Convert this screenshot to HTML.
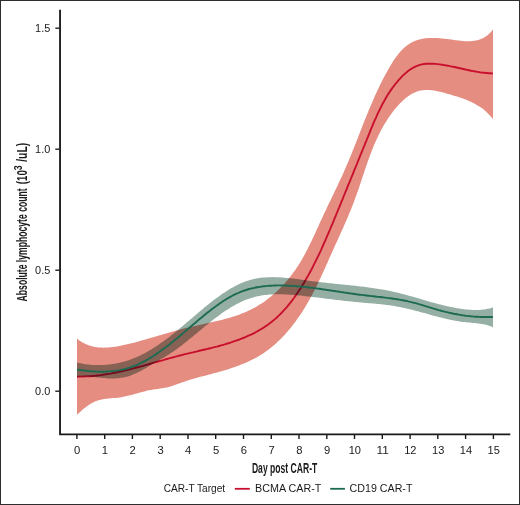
<!DOCTYPE html>
<html><head><meta charset="utf-8"><title>Absolute lymphocyte count</title>
<style>
html,body{margin:0;padding:0;background:#fff}
#fig{position:relative;width:518px;height:503px;border:1px solid #2e2e2e;background:#fff;overflow:hidden}
</style></head><body>
<div id="fig">
<svg width="518" height="503" viewBox="1 1 518 503" style="display:block;position:absolute;left:0;top:0">
<path d="M77.0,338.2 L78.6,340.0 L80.6,341.3 L82.5,342.5 L84.6,343.6 L86.6,344.5 L88.7,345.3 L90.8,346.0 L92.9,346.5 L95.0,346.9 L97.2,347.3 L99.3,347.5 L101.5,347.6 L103.7,347.7 L105.9,347.6 L108.1,347.5 L110.4,347.3 L112.6,347.1 L114.9,346.8 L117.1,346.4 L119.3,346.0 L121.6,345.6 L123.8,345.1 L126.1,344.6 L128.3,344.1 L130.5,343.5 L132.7,342.9 L135.0,342.4 L137.2,341.8 L139.4,341.2 L141.5,340.6 L143.7,340.0 L145.9,339.3 L148.1,338.7 L150.2,338.1 L152.4,337.5 L154.6,336.8 L156.7,336.2 L158.9,335.6 L161.0,334.9 L163.2,334.3 L165.3,333.7 L167.5,333.0 L169.7,332.4 L171.8,331.8 L174.0,331.2 L176.2,330.6 L178.3,330.0 L180.5,329.4 L182.7,328.8 L184.9,328.3 L187.1,327.7 L189.3,327.2 L191.5,326.7 L193.7,326.2 L195.9,325.7 L198.1,325.2 L200.3,324.7 L202.5,324.2 L204.8,323.8 L207.0,323.3 L209.2,322.8 L211.4,322.3 L213.6,321.8 L215.9,321.3 L218.1,320.8 L220.3,320.2 L222.5,319.7 L224.6,319.1 L226.8,318.5 L229.0,317.9 L231.1,317.3 L233.3,316.6 L235.4,315.9 L237.5,315.2 L239.6,314.4 L241.7,313.6 L243.8,312.8 L245.9,311.9 L247.9,311.0 L249.9,310.1 L251.9,309.1 L253.9,308.0 L255.9,307.0 L257.8,305.8 L259.7,304.6 L261.6,303.4 L263.5,302.2 L265.3,300.9 L267.1,299.5 L268.9,298.1 L270.7,296.7 L272.4,295.3 L274.2,293.8 L275.9,292.2 L277.5,290.7 L279.2,289.1 L280.8,287.5 L282.4,285.8 L283.9,284.2 L285.4,282.5 L286.9,280.7 L288.4,279.0 L289.8,277.2 L291.2,275.4 L292.6,273.6 L293.9,271.8 L295.3,269.9 L296.5,268.1 L297.8,266.2 L299.0,264.3 L300.2,262.4 L301.3,260.4 L302.5,258.5 L303.6,256.5 L304.7,254.6 L305.7,252.6 L306.8,250.6 L307.8,248.6 L308.8,246.6 L309.8,244.6 L310.8,242.5 L311.8,240.5 L312.7,238.5 L313.7,236.4 L314.6,234.4 L315.6,232.3 L316.5,230.3 L317.4,228.2 L318.4,226.2 L319.3,224.1 L320.2,222.1 L321.2,220.0 L322.1,217.9 L323.1,215.9 L324.0,213.8 L325.0,211.8 L326.0,209.7 L326.9,207.7 L327.9,205.6 L328.9,203.6 L329.9,201.6 L330.9,199.5 L331.8,197.5 L332.8,195.4 L333.8,193.4 L334.8,191.3 L335.8,189.3 L336.8,187.2 L337.7,185.2 L338.7,183.1 L339.6,181.1 L340.6,179.0 L341.6,177.0 L342.5,174.9 L343.4,172.9 L344.3,170.8 L345.2,168.7 L346.1,166.7 L347.0,164.6 L347.9,162.5 L348.8,160.4 L349.6,158.3 L350.5,156.3 L351.4,154.2 L352.2,152.1 L353.0,150.0 L353.9,147.9 L354.7,145.8 L355.5,143.7 L356.4,141.6 L357.2,139.5 L358.0,137.4 L358.8,135.3 L359.6,133.2 L360.5,131.1 L361.3,129.0 L362.1,126.9 L362.9,124.8 L363.7,122.7 L364.6,120.6 L365.4,118.5 L366.3,116.4 L367.1,114.3 L368.0,112.2 L368.8,110.1 L369.7,108.0 L370.6,105.9 L371.5,103.9 L372.4,101.8 L373.3,99.7 L374.2,97.6 L375.1,95.5 L376.0,93.5 L377.0,91.4 L378.0,89.3 L379.0,87.3 L379.9,85.2 L381.0,83.2 L382.0,81.1 L383.0,79.1 L384.1,77.0 L385.2,75.0 L386.3,72.9 L387.4,70.9 L388.5,68.9 L389.7,66.9 L390.9,64.9 L392.1,62.9 L393.3,61.0 L394.6,59.1 L395.9,57.2 L397.3,55.4 L398.7,53.6 L400.1,51.9 L401.6,50.3 L403.1,48.8 L404.7,47.3 L406.3,45.9 L408.0,44.7 L409.8,43.5 L411.6,42.5 L413.5,41.5 L415.4,40.7 L417.5,40.0 L419.5,39.4 L421.6,38.9 L423.8,38.6 L426.0,38.3 L428.2,38.1 L430.5,37.9 L432.8,37.9 L435.1,37.9 L437.4,38.0 L439.8,38.2 L442.1,38.4 L444.5,38.7 L446.8,39.0 L449.2,39.3 L451.5,39.6 L453.9,40.0 L456.2,40.3 L458.5,40.6 L460.8,40.8 L463.1,41.0 L465.4,41.2 L467.6,41.2 L469.8,41.2 L472.0,41.0 L474.1,40.8 L476.2,40.4 L478.3,39.9 L480.3,39.3 L482.3,38.4 L484.2,37.4 L486.1,36.3 L487.9,34.9 L489.7,33.3 L491.4,31.5 L493.0,29.6 L493.0,119.0 L491.5,117.2 L489.9,115.4 L488.2,113.7 L486.5,112.1 L484.8,110.5 L483.1,109.1 L481.3,107.8 L479.4,106.5 L477.5,105.4 L475.6,104.2 L473.7,103.2 L471.7,102.2 L469.7,101.3 L467.7,100.4 L465.6,99.6 L463.5,98.8 L461.4,98.0 L459.2,97.3 L457.1,96.6 L454.8,95.9 L452.6,95.2 L450.3,94.5 L448.0,93.9 L445.7,93.2 L443.4,92.6 L441.1,92.0 L438.7,91.5 L436.4,91.0 L434.1,90.6 L431.7,90.3 L429.4,90.1 L427.2,90.0 L424.9,90.1 L422.7,90.3 L420.6,90.6 L418.4,91.1 L416.4,91.8 L414.3,92.7 L412.4,93.6 L410.4,94.7 L408.6,96.0 L406.7,97.3 L404.9,98.8 L403.2,100.3 L401.5,101.9 L399.9,103.6 L398.3,105.3 L396.7,107.0 L395.2,108.8 L393.8,110.6 L392.3,112.4 L391.0,114.3 L389.6,116.2 L388.3,118.1 L387.1,120.0 L385.9,121.9 L384.7,123.8 L383.5,125.8 L382.4,127.8 L381.3,129.8 L380.3,131.8 L379.3,133.8 L378.3,135.8 L377.3,137.9 L376.3,140.0 L375.4,142.0 L374.5,144.1 L373.6,146.2 L372.8,148.3 L371.9,150.4 L371.1,152.6 L370.3,154.7 L369.5,156.8 L368.7,159.0 L368.0,161.1 L367.2,163.3 L366.4,165.5 L365.7,167.6 L365.0,169.8 L364.2,172.0 L363.5,174.2 L362.8,176.3 L362.0,178.5 L361.3,180.7 L360.6,182.9 L359.9,185.1 L359.1,187.3 L358.4,189.4 L357.6,191.6 L356.9,193.8 L356.1,196.0 L355.3,198.1 L354.5,200.3 L353.7,202.4 L352.9,204.6 L352.0,206.7 L351.2,208.9 L350.3,211.0 L349.4,213.1 L348.6,215.2 L347.7,217.3 L346.8,219.5 L345.8,221.6 L344.9,223.7 L344.0,225.8 L343.1,227.9 L342.1,230.0 L341.2,232.1 L340.3,234.1 L339.3,236.2 L338.4,238.3 L337.4,240.4 L336.5,242.5 L335.5,244.6 L334.6,246.6 L333.7,248.7 L332.7,250.8 L331.8,252.9 L330.9,254.9 L329.9,257.0 L329.0,259.1 L328.1,261.2 L327.2,263.2 L326.2,265.3 L325.3,267.4 L324.4,269.4 L323.5,271.5 L322.5,273.6 L321.6,275.6 L320.6,277.7 L319.6,279.7 L318.7,281.8 L317.7,283.8 L316.7,285.9 L315.7,287.9 L314.6,289.9 L313.6,291.9 L312.5,294.0 L311.5,296.0 L310.4,298.0 L309.3,300.0 L308.1,302.0 L307.0,304.0 L305.8,306.0 L304.6,307.9 L303.4,309.9 L302.1,311.9 L300.9,313.8 L299.6,315.7 L298.3,317.6 L296.9,319.5 L295.6,321.4 L294.2,323.3 L292.8,325.1 L291.4,326.9 L289.9,328.7 L288.4,330.5 L286.9,332.2 L285.4,334.0 L283.8,335.7 L282.3,337.3 L280.7,339.0 L279.0,340.6 L277.4,342.1 L275.7,343.7 L274.0,345.2 L272.3,346.6 L270.5,348.1 L268.7,349.5 L266.9,350.8 L265.1,352.1 L263.2,353.4 L261.3,354.6 L259.4,355.8 L257.4,356.9 L255.5,358.0 L253.5,359.1 L251.5,360.1 L249.4,361.0 L247.4,362.0 L245.3,362.9 L243.2,363.8 L241.1,364.6 L239.0,365.5 L236.8,366.2 L234.7,367.0 L232.5,367.8 L230.3,368.5 L228.2,369.2 L226.0,369.9 L223.8,370.5 L221.6,371.2 L219.3,371.8 L217.1,372.4 L214.9,373.0 L212.7,373.6 L210.5,374.2 L208.3,374.8 L206.0,375.4 L203.8,375.9 L201.6,376.5 L199.4,377.1 L197.2,377.7 L195.0,378.3 L192.8,379.0 L190.6,379.6 L188.4,380.3 L186.2,381.0 L184.1,381.7 L181.9,382.4 L179.8,383.2 L177.6,384.0 L175.5,384.8 L173.3,385.6 L171.2,386.3 L169.0,386.9 L166.8,387.4 L164.5,387.8 L162.3,388.2 L160.0,388.5 L157.8,388.9 L155.5,389.2 L153.2,389.5 L151.0,389.9 L148.7,390.3 L146.5,390.8 L144.3,391.4 L142.1,391.9 L139.9,392.5 L137.7,393.2 L135.5,393.8 L133.3,394.4 L131.1,395.0 L128.9,395.6 L126.7,396.1 L124.5,396.6 L122.2,397.1 L120.0,397.4 L117.7,397.7 L115.4,397.9 L113.2,398.1 L110.9,398.3 L108.6,398.5 L106.4,398.7 L104.1,399.0 L101.9,399.4 L99.8,399.9 L97.6,400.5 L95.5,401.3 L93.5,402.2 L91.5,403.3 L89.5,404.5 L87.6,405.8 L85.8,407.2 L83.9,408.6 L82.1,410.1 L80.4,411.7 L78.7,413.2 L77.0,414.7Z" fill="#E58D81"/>
<path d="M77.0,376.7 L79.2,376.6 L81.5,376.6 L83.8,376.5 L86.0,376.4 L88.3,376.3 L90.5,376.2 L92.8,376.0 L95.0,375.8 L97.3,375.5 L99.5,375.3 L101.7,375.0 L103.9,374.6 L106.1,374.3 L108.3,373.9 L110.5,373.6 L112.7,373.1 L114.9,372.7 L117.1,372.3 L119.3,371.8 L121.5,371.3 L123.6,370.8 L125.8,370.3 L128.0,369.8 L130.1,369.2 L132.3,368.7 L134.5,368.1 L136.6,367.5 L138.8,367.0 L140.9,366.4 L143.1,365.8 L145.3,365.2 L147.4,364.6 L149.6,364.0 L151.7,363.3 L153.9,362.7 L156.0,362.1 L158.2,361.5 L160.3,360.9 L162.5,360.3 L164.6,359.6 L166.8,359.0 L169.0,358.4 L171.1,357.8 L173.3,357.3 L175.5,356.7 L177.6,356.1 L179.8,355.5 L182.0,355.0 L184.1,354.4 L186.3,353.9 L188.5,353.4 L190.7,352.9 L192.9,352.4 L195.1,351.8 L197.2,351.3 L199.4,350.8 L201.6,350.3 L203.8,349.8 L206.0,349.3 L208.1,348.7 L210.3,348.2 L212.5,347.7 L214.6,347.1 L216.8,346.6 L219.0,346.0 L221.1,345.4 L223.3,344.8 L225.4,344.2 L227.5,343.5 L229.7,342.8 L231.8,342.2 L233.9,341.4 L236.0,340.7 L238.1,340.0 L240.2,339.2 L242.3,338.3 L244.4,337.5 L246.4,336.6 L248.5,335.7 L250.5,334.8 L252.6,333.8 L254.6,332.8 L256.5,331.7 L258.5,330.6 L260.4,329.5 L262.4,328.4 L264.2,327.2 L266.1,325.9 L267.9,324.7 L269.7,323.3 L271.5,322.0 L273.2,320.6 L274.9,319.1 L276.6,317.7 L278.2,316.1 L279.8,314.6 L281.4,313.0 L282.9,311.4 L284.4,309.7 L285.9,308.1 L287.4,306.4 L288.8,304.6 L290.2,302.9 L291.6,301.1 L293.0,299.3 L294.3,297.5 L295.6,295.6 L296.9,293.8 L298.1,291.9 L299.4,290.0 L300.6,288.2 L301.8,286.3 L303.0,284.3 L304.2,282.4 L305.3,280.5 L306.4,278.5 L307.6,276.6 L308.7,274.6 L309.7,272.7 L310.8,270.7 L311.9,268.7 L312.9,266.7 L313.9,264.7 L314.9,262.7 L315.9,260.7 L316.9,258.7 L317.9,256.7 L318.9,254.6 L319.8,252.6 L320.8,250.6 L321.7,248.5 L322.6,246.5 L323.5,244.4 L324.4,242.4 L325.3,240.3 L326.2,238.3 L327.1,236.2 L328.0,234.2 L328.9,232.1 L329.8,230.0 L330.6,228.0 L331.5,225.9 L332.4,223.8 L333.2,221.8 L334.1,219.7 L334.9,217.6 L335.8,215.6 L336.6,213.5 L337.5,211.4 L338.3,209.4 L339.2,207.3 L340.0,205.3 L340.9,203.2 L341.7,201.1 L342.6,199.1 L343.4,197.0 L344.2,195.0 L345.1,192.9 L345.9,190.9 L346.8,188.8 L347.6,186.7 L348.4,184.7 L349.3,182.6 L350.1,180.6 L351.0,178.5 L351.8,176.4 L352.7,174.4 L353.5,172.3 L354.3,170.2 L355.2,168.2 L356.0,166.1 L356.9,164.0 L357.7,162.0 L358.5,159.9 L359.4,157.8 L360.2,155.7 L361.1,153.7 L361.9,151.6 L362.8,149.5 L363.6,147.4 L364.5,145.3 L365.3,143.2 L366.2,141.1 L367.0,139.0 L367.9,136.9 L368.7,134.8 L369.6,132.7 L370.4,130.6 L371.3,128.5 L372.2,126.4 L373.0,124.3 L373.9,122.2 L374.8,120.1 L375.8,118.1 L376.7,116.0 L377.6,113.9 L378.6,111.9 L379.6,109.9 L380.6,107.8 L381.6,105.8 L382.6,103.8 L383.7,101.9 L384.8,99.9 L385.9,98.0 L387.0,96.0 L388.2,94.1 L389.4,92.3 L390.7,90.4 L391.9,88.6 L393.2,86.8 L394.6,85.0 L395.9,83.3 L397.4,81.6 L398.8,79.9 L400.3,78.3 L401.8,76.7 L403.4,75.1 L405.0,73.6 L406.7,72.2 L408.4,70.8 L410.2,69.5 L412.0,68.4 L413.9,67.3 L415.8,66.4 L417.8,65.6 L419.8,64.9 L421.9,64.4 L424.0,64.0 L426.2,63.8 L428.4,63.7 L430.6,63.7 L432.9,63.8 L435.1,63.9 L437.4,64.1 L439.7,64.4 L442.0,64.7 L444.2,65.1 L446.5,65.5 L448.7,65.9 L451.0,66.4 L453.2,66.8 L455.4,67.3 L457.7,67.8 L459.9,68.3 L462.1,68.8 L464.3,69.3 L466.6,69.8 L468.8,70.2 L471.0,70.7 L473.2,71.1 L475.4,71.5 L477.6,71.9 L479.8,72.3 L482.0,72.6 L484.2,72.8 L486.4,73.0 L488.6,73.2 L490.7,73.3 L493.0,73.6" fill="none" stroke="#C8102E" stroke-width="1.9"/>
<path d="M77.0,362.6 L78.7,363.0 L80.4,363.3 L82.1,363.6 L83.8,363.9 L85.5,364.2 L87.2,364.4 L88.9,364.6 L90.6,364.8 L92.4,364.9 L94.1,365.0 L95.8,365.1 L97.5,365.1 L99.2,365.1 L100.9,365.1 L102.7,365.0 L104.4,364.9 L106.1,364.8 L107.8,364.6 L109.5,364.5 L111.2,364.2 L112.9,364.0 L114.6,363.7 L116.3,363.4 L117.9,363.1 L119.6,362.7 L121.3,362.3 L122.9,361.9 L124.6,361.4 L126.2,360.9 L127.9,360.4 L129.5,359.9 L131.1,359.3 L132.7,358.7 L134.3,358.0 L135.9,357.4 L137.5,356.7 L139.0,356.0 L140.6,355.2 L142.1,354.5 L143.7,353.7 L145.2,352.9 L146.7,352.0 L148.2,351.2 L149.7,350.3 L151.2,349.4 L152.7,348.5 L154.1,347.6 L155.6,346.7 L157.0,345.7 L158.5,344.8 L159.9,343.8 L161.3,342.8 L162.7,341.8 L164.1,340.8 L165.5,339.8 L166.9,338.7 L168.3,337.7 L169.6,336.7 L171.0,335.6 L172.3,334.6 L173.6,333.5 L175.0,332.4 L176.3,331.4 L177.6,330.3 L178.9,329.2 L180.2,328.1 L181.5,327.0 L182.8,325.9 L184.1,324.8 L185.4,323.7 L186.6,322.6 L187.9,321.5 L189.2,320.4 L190.5,319.3 L191.8,318.2 L193.1,317.1 L194.4,316.0 L195.7,314.9 L197.0,313.8 L198.3,312.7 L199.6,311.6 L200.9,310.5 L202.2,309.4 L203.5,308.2 L204.9,307.1 L206.2,306.1 L207.6,305.0 L208.9,303.9 L210.3,302.8 L211.7,301.7 L213.1,300.6 L214.5,299.5 L215.9,298.5 L217.3,297.4 L218.7,296.4 L220.2,295.4 L221.6,294.3 L223.1,293.3 L224.6,292.4 L226.1,291.4 L227.6,290.5 L229.1,289.5 L230.6,288.6 L232.1,287.8 L233.6,286.9 L235.2,286.1 L236.7,285.3 L238.3,284.5 L239.8,283.8 L241.4,283.1 L243.0,282.5 L244.5,281.8 L246.1,281.2 L247.7,280.7 L249.4,280.2 L251.0,279.7 L252.6,279.3 L254.2,278.9 L255.9,278.6 L257.5,278.3 L259.2,278.0 L260.8,277.8 L262.5,277.6 L264.1,277.5 L265.8,277.4 L267.5,277.3 L269.2,277.2 L270.9,277.2 L272.6,277.1 L274.2,277.2 L275.9,277.2 L277.6,277.3 L279.4,277.3 L281.1,277.5 L282.8,277.6 L284.5,277.7 L286.2,277.9 L287.9,278.0 L289.7,278.2 L291.4,278.4 L293.1,278.6 L294.8,278.8 L296.6,279.1 L298.3,279.3 L300.0,279.5 L301.8,279.7 L303.5,280.0 L305.2,280.2 L307.0,280.5 L308.7,280.7 L310.4,280.9 L312.2,281.2 L313.9,281.4 L315.6,281.6 L317.4,281.8 L319.1,282.0 L320.8,282.2 L322.5,282.4 L324.3,282.6 L326.0,282.8 L327.7,283.0 L329.4,283.2 L331.2,283.3 L332.9,283.5 L334.6,283.7 L336.3,283.9 L338.0,284.0 L339.7,284.2 L341.5,284.4 L343.2,284.6 L344.9,284.7 L346.6,284.9 L348.3,285.1 L350.0,285.3 L351.7,285.4 L353.4,285.6 L355.1,285.8 L356.8,286.0 L358.5,286.2 L360.2,286.4 L361.9,286.6 L363.6,286.8 L365.3,287.0 L367.0,287.2 L368.7,287.5 L370.4,287.7 L372.1,287.9 L373.8,288.2 L375.5,288.4 L377.2,288.7 L378.8,289.0 L380.5,289.2 L382.2,289.5 L383.9,289.8 L385.6,290.1 L387.3,290.5 L388.9,290.8 L390.6,291.1 L392.3,291.5 L394.0,291.9 L395.6,292.2 L397.3,292.6 L399.0,293.0 L400.6,293.5 L402.3,293.9 L404.0,294.3 L405.6,294.8 L407.3,295.2 L409.0,295.7 L410.6,296.2 L412.3,296.6 L413.9,297.1 L415.6,297.6 L417.3,298.1 L418.9,298.5 L420.6,299.0 L422.2,299.5 L423.9,300.0 L425.6,300.5 L427.2,301.0 L428.9,301.4 L430.5,301.9 L432.2,302.4 L433.9,302.8 L435.5,303.3 L437.2,303.7 L438.9,304.2 L440.5,304.6 L442.2,305.0 L443.9,305.4 L445.6,305.8 L447.2,306.2 L448.9,306.6 L450.6,306.9 L452.3,307.3 L454.0,307.6 L455.6,307.9 L457.3,308.2 L459.0,308.5 L460.7,308.8 L462.4,309.0 L464.1,309.2 L465.8,309.4 L467.5,309.6 L469.2,309.7 L470.9,309.8 L472.6,309.9 L474.4,310.0 L476.1,310.0 L477.8,309.9 L479.5,309.9 L481.2,309.8 L482.9,309.6 L484.6,309.4 L486.3,309.1 L488.0,308.8 L489.7,308.4 L491.4,307.9 L493.0,307.2 L493.0,327.5 L491.5,326.5 L489.9,326.0 L488.3,325.4 L486.6,325.0 L485.0,324.6 L483.3,324.3 L481.6,324.0 L479.9,323.7 L478.2,323.5 L476.5,323.3 L474.8,323.1 L473.1,323.0 L471.4,322.8 L469.7,322.6 L467.9,322.5 L466.2,322.3 L464.5,322.1 L462.8,321.9 L461.1,321.7 L459.4,321.4 L457.7,321.1 L456.0,320.9 L454.3,320.5 L452.7,320.2 L451.0,319.9 L449.3,319.5 L447.6,319.2 L446.0,318.8 L444.3,318.4 L442.6,318.0 L441.0,317.6 L439.3,317.2 L437.6,316.7 L436.0,316.3 L434.3,315.9 L432.7,315.4 L431.0,315.0 L429.4,314.5 L427.7,314.1 L426.1,313.6 L424.4,313.1 L422.8,312.7 L421.1,312.2 L419.4,311.8 L417.8,311.3 L416.1,310.9 L414.5,310.5 L412.8,310.0 L411.2,309.6 L409.5,309.2 L407.8,308.8 L406.2,308.4 L404.5,308.0 L402.8,307.7 L401.1,307.3 L399.5,307.0 L397.8,306.7 L396.1,306.4 L394.4,306.1 L392.7,305.8 L391.0,305.5 L389.3,305.3 L387.6,305.1 L385.9,304.9 L384.2,304.6 L382.5,304.5 L380.8,304.3 L379.1,304.1 L377.3,303.9 L375.6,303.8 L373.9,303.6 L372.2,303.5 L370.5,303.3 L368.8,303.2 L367.1,303.0 L365.3,302.9 L363.6,302.7 L361.9,302.6 L360.2,302.4 L358.5,302.3 L356.8,302.1 L355.1,301.9 L353.4,301.8 L351.7,301.6 L350.1,301.4 L348.4,301.2 L346.7,301.0 L345.0,300.9 L343.3,300.7 L341.6,300.5 L339.9,300.3 L338.2,300.1 L336.6,299.9 L334.9,299.7 L333.2,299.5 L331.5,299.3 L329.8,299.1 L328.1,298.9 L326.4,298.7 L324.7,298.5 L323.0,298.2 L321.3,298.0 L319.6,297.8 L317.9,297.6 L316.2,297.4 L314.5,297.2 L312.7,297.0 L311.0,296.8 L309.3,296.6 L307.6,296.4 L305.8,296.2 L304.1,296.0 L302.4,295.8 L300.6,295.6 L298.9,295.4 L297.2,295.2 L295.4,295.1 L293.7,294.9 L292.0,294.8 L290.2,294.7 L288.5,294.6 L286.8,294.5 L285.0,294.4 L283.3,294.3 L281.6,294.3 L279.9,294.3 L278.1,294.3 L276.4,294.3 L274.7,294.3 L273.0,294.4 L271.3,294.5 L269.6,294.6 L267.9,294.7 L266.2,294.9 L264.6,295.1 L262.9,295.3 L261.2,295.6 L259.6,295.9 L257.9,296.2 L256.3,296.6 L254.6,297.0 L253.0,297.4 L251.4,297.9 L249.8,298.4 L248.2,298.9 L246.6,299.5 L245.0,300.1 L243.5,300.8 L241.9,301.5 L240.4,302.2 L238.8,302.9 L237.3,303.7 L235.8,304.5 L234.3,305.4 L232.8,306.2 L231.3,307.1 L229.8,308.0 L228.4,308.9 L226.9,309.9 L225.4,310.8 L224.0,311.8 L222.6,312.8 L221.1,313.8 L219.7,314.9 L218.3,315.9 L216.9,316.9 L215.5,318.0 L214.1,319.1 L212.8,320.1 L211.4,321.2 L210.1,322.3 L208.7,323.4 L207.4,324.5 L206.0,325.5 L204.7,326.6 L203.4,327.7 L202.1,328.8 L200.7,329.9 L199.4,331.0 L198.1,332.1 L196.8,333.2 L195.5,334.3 L194.2,335.3 L192.9,336.4 L191.6,337.5 L190.3,338.6 L188.9,339.6 L187.6,340.7 L186.3,341.8 L185.0,342.8 L183.6,343.8 L182.3,344.9 L181.0,345.9 L179.6,346.9 L178.2,347.9 L176.9,348.9 L175.5,349.9 L174.1,350.9 L172.7,351.9 L171.3,352.8 L169.9,353.8 L168.4,354.7 L167.0,355.6 L165.5,356.5 L164.1,357.4 L162.6,358.3 L161.1,359.1 L159.6,360.0 L158.1,360.9 L156.6,361.7 L155.1,362.6 L153.5,363.5 L152.0,364.3 L150.5,365.2 L149.0,366.1 L147.5,367.0 L146.1,367.9 L144.6,368.7 L143.1,369.6 L141.6,370.4 L140.1,371.2 L138.6,372.0 L137.1,372.8 L135.5,373.5 L134.0,374.1 L132.5,374.8 L130.9,375.4 L129.4,375.9 L127.8,376.4 L126.2,376.8 L124.6,377.2 L123.0,377.5 L121.4,377.8 L119.8,378.0 L118.1,378.2 L116.5,378.3 L114.8,378.4 L113.1,378.5 L111.5,378.5 L109.8,378.4 L108.1,378.4 L106.3,378.3 L104.6,378.1 L102.9,378.0 L101.1,377.8 L99.4,377.6 L97.7,377.4 L95.9,377.2 L94.2,377.0 L92.4,376.9 L90.7,376.7 L88.9,376.6 L87.2,376.5 L85.5,376.4 L83.8,376.4 L82.1,376.4 L80.4,376.4 L78.7,376.5 L77.0,376.7Z" fill="#96AFA5" style="mix-blend-mode:multiply"/>
<path d="M77.0,369.7 L78.7,369.7 L80.4,370.0 L82.1,370.3 L83.8,370.5 L85.5,370.7 L87.2,370.9 L89.0,371.1 L90.7,371.2 L92.4,371.4 L94.2,371.5 L95.9,371.6 L97.6,371.6 L99.3,371.7 L101.1,371.7 L102.8,371.7 L104.5,371.7 L106.2,371.6 L107.9,371.5 L109.7,371.4 L111.4,371.2 L113.1,371.1 L114.8,370.9 L116.4,370.6 L118.1,370.4 L119.8,370.1 L121.5,369.7 L123.1,369.4 L124.8,369.0 L126.4,368.6 L128.0,368.1 L129.7,367.6 L131.3,367.1 L132.9,366.5 L134.4,365.9 L136.0,365.3 L137.6,364.6 L139.1,363.9 L140.7,363.2 L142.2,362.4 L143.7,361.6 L145.2,360.8 L146.7,360.0 L148.2,359.2 L149.7,358.3 L151.2,357.4 L152.7,356.5 L154.1,355.5 L155.5,354.6 L157.0,353.6 L158.4,352.6 L159.8,351.6 L161.2,350.6 L162.6,349.6 L164.0,348.6 L165.4,347.5 L166.8,346.5 L168.1,345.4 L169.5,344.4 L170.8,343.3 L172.2,342.2 L173.5,341.1 L174.8,340.1 L176.2,339.0 L177.5,337.9 L178.8,336.8 L180.1,335.7 L181.4,334.6 L182.7,333.5 L184.0,332.4 L185.3,331.2 L186.6,330.1 L187.9,329.0 L189.2,327.9 L190.5,326.8 L191.8,325.7 L193.1,324.6 L194.4,323.5 L195.7,322.4 L197.0,321.3 L198.3,320.1 L199.6,319.0 L200.9,317.9 L202.3,316.9 L203.6,315.8 L204.9,314.7 L206.3,313.6 L207.6,312.5 L209.0,311.4 L210.3,310.4 L211.7,309.3 L213.1,308.3 L214.5,307.2 L215.9,306.2 L217.3,305.2 L218.7,304.2 L220.1,303.2 L221.6,302.2 L223.0,301.3 L224.5,300.3 L226.0,299.4 L227.4,298.5 L228.9,297.6 L230.4,296.8 L231.9,296.0 L233.4,295.2 L235.0,294.4 L236.5,293.7 L238.1,293.0 L239.6,292.3 L241.2,291.7 L242.8,291.1 L244.4,290.5 L246.0,290.0 L247.6,289.5 L249.2,289.0 L250.8,288.6 L252.5,288.2 L254.1,287.9 L255.8,287.5 L257.4,287.2 L259.1,286.9 L260.8,286.7 L262.5,286.4 L264.2,286.2 L265.9,286.1 L267.6,285.9 L269.3,285.8 L271.0,285.7 L272.7,285.6 L274.4,285.5 L276.1,285.5 L277.8,285.4 L279.6,285.4 L281.3,285.5 L283.0,285.5 L284.8,285.5 L286.5,285.6 L288.2,285.7 L289.9,285.8 L291.7,285.9 L293.4,286.0 L295.1,286.1 L296.9,286.2 L298.6,286.4 L300.3,286.6 L302.0,286.7 L303.7,286.9 L305.4,287.1 L307.2,287.3 L308.9,287.5 L310.6,287.7 L312.3,287.9 L314.0,288.1 L315.7,288.3 L317.4,288.6 L319.1,288.8 L320.8,289.0 L322.5,289.3 L324.2,289.5 L325.9,289.8 L327.6,290.0 L329.3,290.3 L331.0,290.5 L332.7,290.8 L334.4,291.0 L336.0,291.3 L337.7,291.5 L339.4,291.8 L341.1,292.1 L342.8,292.3 L344.5,292.6 L346.2,292.8 L347.9,293.1 L349.6,293.3 L351.3,293.6 L353.0,293.8 L354.7,294.0 L356.4,294.3 L358.1,294.5 L359.8,294.7 L361.5,294.9 L363.2,295.1 L364.9,295.3 L366.6,295.5 L368.3,295.7 L370.0,295.9 L371.7,296.1 L373.4,296.3 L375.1,296.5 L376.8,296.7 L378.5,296.9 L380.2,297.0 L381.9,297.2 L383.6,297.4 L385.3,297.6 L387.0,297.9 L388.7,298.1 L390.4,298.3 L392.1,298.5 L393.8,298.8 L395.5,299.0 L397.2,299.3 L398.9,299.6 L400.6,299.9 L402.3,300.2 L403.9,300.5 L405.6,300.8 L407.3,301.2 L409.0,301.6 L410.6,301.9 L412.3,302.4 L413.9,302.8 L415.6,303.2 L417.3,303.7 L418.9,304.2 L420.6,304.6 L422.2,305.1 L423.8,305.6 L425.5,306.1 L427.1,306.6 L428.8,307.1 L430.4,307.6 L432.1,308.1 L433.7,308.6 L435.4,309.1 L437.0,309.6 L438.7,310.1 L440.3,310.5 L442.0,311.0 L443.7,311.4 L445.3,311.8 L447.0,312.2 L448.7,312.6 L450.3,313.0 L452.0,313.3 L453.7,313.7 L455.4,314.0 L457.0,314.3 L458.7,314.6 L460.4,314.9 L462.1,315.2 L463.8,315.4 L465.5,315.7 L467.2,315.9 L468.9,316.1 L470.6,316.3 L472.3,316.4 L474.0,316.6 L475.7,316.7 L477.5,316.8 L479.2,316.9 L480.9,317.0 L482.6,317.0 L484.4,317.0 L486.1,317.0 L487.8,317.0 L489.6,317.0 L491.3,316.9 L493.0,317.1" fill="none" stroke="#1C6B52" stroke-width="1.9"/>
<g stroke="#1a1a1a" fill="none">
<path d="M60.05,9.7 V434.3 H510.3" stroke-width="1.85"/>
<path d="M55.3,391.2 H59.5" stroke-width="1.35"/>
<path d="M55.3,270.2 H59.5" stroke-width="1.35"/>
<path d="M55.3,149.2 H59.5" stroke-width="1.35"/>
<path d="M55.3,28.2 H59.5" stroke-width="1.35"/>
<path d="M76.9,434 V439" stroke-width="1.4"/>
<path d="M104.7,434 V439" stroke-width="1.4"/>
<path d="M132.4,434 V439" stroke-width="1.4"/>
<path d="M160.2,434 V439" stroke-width="1.4"/>
<path d="M188.0,434 V439" stroke-width="1.4"/>
<path d="M215.7,434 V439" stroke-width="1.4"/>
<path d="M243.5,434 V439" stroke-width="1.4"/>
<path d="M271.3,434 V439" stroke-width="1.4"/>
<path d="M299.0,434 V439" stroke-width="1.4"/>
<path d="M326.8,434 V439" stroke-width="1.4"/>
<path d="M354.5,434 V439" stroke-width="1.4"/>
<path d="M382.3,434 V439" stroke-width="1.4"/>
<path d="M410.1,434 V439" stroke-width="1.4"/>
<path d="M437.8,434 V439" stroke-width="1.4"/>
<path d="M465.6,434 V439" stroke-width="1.4"/>
<path d="M493.4,434 V439" stroke-width="1.4"/>
</g>
<g font-family="'Liberation Sans', Arial, Helvetica, sans-serif" font-size="10.5" fill="#1a1a1a">
<text x="35.1" y="395.0" textLength="15.2" lengthAdjust="spacingAndGlyphs">0.0</text>
<text x="35.1" y="274.0" textLength="15.2" lengthAdjust="spacingAndGlyphs">0.5</text>
<text x="35.1" y="153.0" textLength="15.2" lengthAdjust="spacingAndGlyphs">1.0</text>
<text x="35.1" y="32.0" textLength="15.2" lengthAdjust="spacingAndGlyphs">1.5</text>
<text x="74.1" y="453.7" textLength="6.25" lengthAdjust="spacingAndGlyphs">0</text>
<text x="101.8" y="453.7" textLength="6.25" lengthAdjust="spacingAndGlyphs">1</text>
<text x="129.6" y="453.7" textLength="6.25" lengthAdjust="spacingAndGlyphs">2</text>
<text x="157.4" y="453.7" textLength="6.25" lengthAdjust="spacingAndGlyphs">3</text>
<text x="185.1" y="453.7" textLength="6.25" lengthAdjust="spacingAndGlyphs">4</text>
<text x="212.9" y="453.7" textLength="6.25" lengthAdjust="spacingAndGlyphs">5</text>
<text x="240.7" y="453.7" textLength="6.25" lengthAdjust="spacingAndGlyphs">6</text>
<text x="268.4" y="453.7" textLength="6.25" lengthAdjust="spacingAndGlyphs">7</text>
<text x="296.2" y="453.7" textLength="6.25" lengthAdjust="spacingAndGlyphs">8</text>
<text x="324.0" y="453.7" textLength="6.25" lengthAdjust="spacingAndGlyphs">9</text>
<text x="348.7" y="453.7" textLength="12.3" lengthAdjust="spacingAndGlyphs">10</text>
<text x="376.5" y="453.7" textLength="12.3" lengthAdjust="spacingAndGlyphs">11</text>
<text x="404.2" y="453.7" textLength="12.3" lengthAdjust="spacingAndGlyphs">12</text>
<text x="432.0" y="453.7" textLength="12.3" lengthAdjust="spacingAndGlyphs">13</text>
<text x="459.8" y="453.7" textLength="12.3" lengthAdjust="spacingAndGlyphs">14</text>
<text x="487.5" y="453.7" textLength="12.3" lengthAdjust="spacingAndGlyphs">15</text>
<text x="163.7" y="492" textLength="61.5" lengthAdjust="spacingAndGlyphs">CAR-T Target</text>
<text x="255" y="492" textLength="66.3" lengthAdjust="spacingAndGlyphs">BCMA CAR-T</text>
<text x="349.6" y="492" textLength="62.8" lengthAdjust="spacingAndGlyphs">CD19 CAR-T</text>
</g>
<path d="M234.8,488.8 H249.8" stroke="#C8102E" stroke-width="1.8"/>
<path d="M330.2,488.8 H344.9" stroke="#1C6B52" stroke-width="1.8"/>
<g font-family="'Liberation Sans', Arial, Helvetica, sans-serif" font-size="14" font-weight="bold" fill="#1a1a1a">
<text x="251.9" y="472.5" textLength="65.4" lengthAdjust="spacingAndGlyphs">Day post CAR-T</text>
<g transform="translate(26.7,0) rotate(-90)">
<text x="-301.4" y="0" textLength="113" lengthAdjust="spacingAndGlyphs">Absolute lymphocyte count</text>
<text x="-184.2" y="0" textLength="14" lengthAdjust="spacingAndGlyphs">(10</text>
<text x="-170.3" y="-5.2" font-size="10" textLength="4.9" lengthAdjust="spacingAndGlyphs">3</text>
<text x="-161.8" y="0" textLength="19" lengthAdjust="spacingAndGlyphs">/uL)</text>
</g>
</g>
</svg>
</div>
</body></html>
